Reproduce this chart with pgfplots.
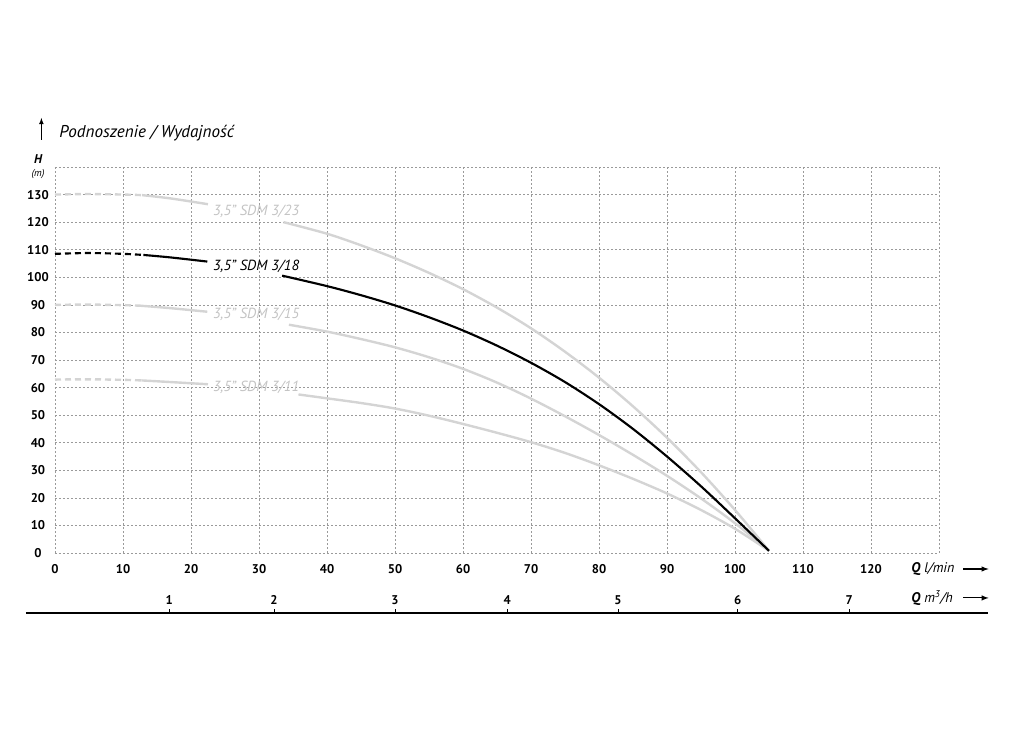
\documentclass[border=0pt]{standalone}
\usepackage{pgfplots}
\pgfplotsset{compat=1.18}
\usepackage{fontspec}
\setmainfont{PT Sans}

\definecolor{curvegray}{HTML}{D4D4D4}
\definecolor{labelgray}{HTML}{C4C4C4}
\definecolor{gridgray}{HTML}{9A9A9A}

\begin{document}
\begin{tikzpicture}
% page = 1024 x 732 px, 1px = 0.75pt
\path[use as bounding box] (-41.25pt,-134.25pt) rectangle (726.75pt,414.75pt);
\begin{axis}[
  at={(0pt,0pt)}, anchor=south west, scale only axis,
  width=663pt, height=289.5pt,
  xmin=0, xmax=130, ymin=0, ymax=140,
  xtick={0,10,...,130},
  xticklabels={0,10,20,30,40,50,60,70,80,90,100,110,120,{}},
  ytick={0,10,...,140},
  yticklabels={0,10,20,30,40,50,60,70,80,90,100,110,120,130,{}},
  grid=major,
  major grid style={gridgray, line width=0.5pt, dash pattern=on 1.5pt off 1.5pt},
  axis line style={draw=none},
  major tick length=0pt,
  /pgf/number format/assume math mode=true,
  ticklabel style={font=\fontsize{9.5}{11}\selectfont\bfseries},
  xticklabel style={anchor=center, yshift=-12pt},
  yticklabel style={anchor=center, xshift=-12.75pt},
  clip=false,
  dashed part/.style={dash pattern=on 4.5pt off 3pt},
]
% SDM 3/23
\addplot[curvegray, line width=1.8pt, dashed part, smooth]
  coordinates {(0,130) (5,130.2) (10,130) (12.8,129.8)};
\addplot[curvegray, line width=1.8pt, smooth]
  coordinates {(12.8,129.8) (17,128.6) (22.5,126.5)};
\addplot[curvegray, line width=1.8pt, smooth]
  coordinates {(33.6,120) (40,115.8) (45,111.6) (50,106.9) (55,101.6) (60,95.7)
               (65,89) (70,81.5) (75,73) (80,63.6) (85,53.2) (90,41.8)
               (95,29.3) (100,15.6) (105,0.8)};
% SDM 3/15
\addplot[curvegray, line width=1.8pt, dashed part, smooth]
  coordinates {(0,90) (5,90.1) (10,89.9) (12.5,89.7)};
\addplot[curvegray, line width=1.8pt, smooth]
  coordinates {(12.5,89.7) (17,88.8) (22.4,87.5)};
\addplot[curvegray, line width=1.8pt, smooth]
  coordinates {(34.4,82.8) (40,80.3) (45,77.6) (50,74.6) (55,71) (60,66.8)
               (65,61.8) (70,56) (75,49.6) (80,42.8) (85,35.6) (90,28)
               (95,19.8) (100,10.8) (105,0.8)};
% SDM 3/11
\addplot[curvegray, line width=1.8pt, dashed part, smooth]
  coordinates {(0,62.9) (5,63) (10,62.8) (12.7,62.6)};
\addplot[curvegray, line width=1.8pt, smooth]
  coordinates {(12.7,62.6) (17,62) (22.5,61.2)};
\addplot[curvegray, line width=1.8pt, smooth]
  coordinates {(35.8,57.5) (40,56.1) (45,54.4) (50,52.4) (55,49.8) (60,46.8)
               (65,43.6) (70,40.2) (75,36.3) (80,31.8) (85,26.9) (90,21.6)
               (95,15.6) (100,8.8) (105,0.8)};
% SDM 3/18
\addplot[black, line width=1.6pt, dashed part, smooth]
  coordinates {(0,108.5) (5,108.8) (10,108.5) (13,108.1)};
\addplot[black, line width=1.6pt, smooth]
  coordinates {(13,108.1) (17,107.2) (22.4,105.7)};
\addplot[black, line width=1.6pt, smooth]
  coordinates {(33.4,100.6) (40,96.8) (45,93.5) (50,89.8) (55,85.5) (60,80.7)
               (65,75.2) (70,69) (75,62) (80,54) (85,45) (90,35)
               (95,24.2) (100,12.6) (105,0.8)};

\begin{scope}[font=\fontsize{11}{13}\selectfont\itshape]
\node[anchor=west, text=labelgray, inner sep=0pt] at (axis cs:23.2,123.8) {3,5” SDM 3/23};
\node[anchor=west, text=black, inner sep=0pt] at (axis cs:23.2,103.9) {3,5” SDM 3/18};
\node[anchor=west, text=labelgray, inner sep=0pt] at (axis cs:23.2,86.5) {3,5” SDM 3/15};
\node[anchor=west, text=labelgray, inner sep=0pt] at (axis cs:23.2,59.9) {3,5” SDM 3/11};
\end{scope}

% title and axis names
\draw[-latex, line width=0.6pt] (axis cs:-2.0,149.8) -- (axis cs:-2.0,157.8);
\node[anchor=west, inner sep=0pt, font=\fontsize{12.8}{15}\selectfont\itshape]
  at (axis cs:0.6,152.3) {Podnoszenie / Wydajność};
\node[inner sep=0pt, font=\fontsize{9.5}{11}\selectfont\bfseries\itshape]
  at (axis cs:-2.5,143) {H};
\node[inner sep=0pt, font=\fontsize{7.5}{9}\selectfont\itshape]
  at (axis cs:-2.5,137.5) {(m)};
\node[anchor=west, inner sep=0pt, font=\fontsize{10.5}{12}\selectfont]
  at (axis cs:125.9,-5.8) {\textbf{\itshape Q} \textit{l/min}};
\draw[-latex, line width=0.8pt] (axis cs:133.6,-5.8) -- (axis cs:137.3,-5.8);
\node[anchor=west, inner sep=0pt, font=\fontsize{10.5}{12}\selectfont]
  at (axis cs:125.9,-16.3) {\textbf{\itshape Q} \textit{m\textsuperscript{3}/h}};
\draw[-latex, line width=0.8pt] (axis cs:133.6,-16.3) -- (axis cs:137.3,-16.3);
\end{axis}

% second scale: m3/h
\begin{axis}[
  at={(-21.75pt,-45pt)}, anchor=north west, scale only axis,
  width=721.5pt, height=20pt,
  xmin=-4.26, xmax=137.2, ymin=0, ymax=1,
  axis x line*=top, hide y axis,
  xtick={16.8,32.2,50,66.5,82.8,100.4,116.8},
  xticklabels={1,2,3,4,5,6,7},
  tick align=outside, major tick length=3pt,
  x axis line style={line width=0.9pt},
  tick style={black, line width=0.6pt},
  ticklabel style={font=\fontsize{9.5}{11}\selectfont\bfseries},
]
\end{axis}
\end{tikzpicture}
\end{document}
